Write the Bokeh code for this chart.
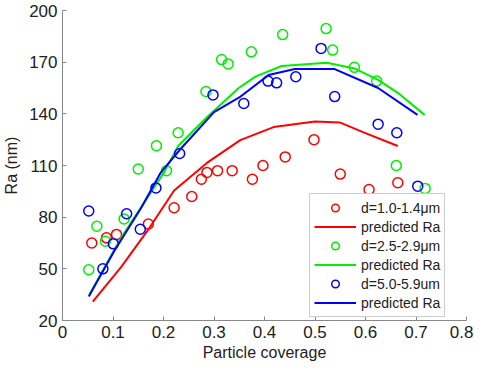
from bokeh.plotting import figure
from bokeh.models import Range1d, Legend, LegendItem, FixedTicker
from bokeh.embed import file_html
from bokeh.resources import INLINE

# --- data ---
red_x = [0.058, 0.087, 0.107, 0.170, 0.221, 0.256, 0.275, 0.286, 0.307, 0.336, 0.376, 0.397, 0.441, 0.498, 0.550, 0.607, 0.664]
red_y = [65, 68, 70, 76, 85.5, 92, 102, 106, 107, 107, 102, 110, 115, 125, 105, 96, 100]

green_x = [0.052, 0.068, 0.085, 0.122, 0.150, 0.186, 0.206, 0.229, 0.284, 0.315, 0.328, 0.374, 0.436, 0.522, 0.535, 0.578, 0.622, 0.661, 0.718]
green_y = [49.5, 74.7, 66, 79, 108, 121.5, 107, 129, 153, 171.5, 169, 176, 186, 189.5, 177, 167, 159, 110, 96.7]

blue_x = [0.052, 0.080, 0.1005, 0.127, 0.154, 0.185, 0.232, 0.298, 0.359, 0.407, 0.424, 0.462, 0.512, 0.539, 0.625, 0.662, 0.7035]
blue_y = [83.6, 50, 64.5, 82, 73, 97, 117, 151, 146, 159, 158, 161.5, 178, 150, 134, 129, 98]

red_fit_x = [0.06, 0.116, 0.168, 0.221, 0.286, 0.352, 0.418, 0.5, 0.549, 0.595, 0.664]
red_fit_y = [31, 51, 72, 95.5, 111.5, 124.7, 132.3, 135.5, 135, 129.4, 121.3]

green_fit_x = [0.053, 0.116, 0.201, 0.229, 0.286, 0.349, 0.382, 0.434, 0.523, 0.579, 0.625, 0.664, 0.717]
green_fit_y = [35, 68, 106, 121.3, 138, 155, 161.6, 167.8, 169.7, 166.3, 159.7, 152.2, 139.4]

blue_fit_x = [0.052, 0.1025, 0.155, 0.194, 0.232, 0.3, 0.35, 0.408, 0.46, 0.539, 0.625, 0.703]
blue_fit_y = [34, 60.3, 85, 105.7, 119, 141, 149.5, 162.5, 166, 166, 155, 139.4]

x_ticks = [0, 0.1, 0.2, 0.3, 0.4, 0.5, 0.6, 0.7, 0.8]
y_ticks = [20, 50, 80, 110, 140, 170, 200]

labels = ["d=1.0-1.4\u03bcm", "predicted Ra", "d=2.5-2.9\u03bcm", "predicted Ra", "d=5.0-5.9um", "predicted Ra"]

FONT = "Liberation Sans"
RED, GREEN, BLUE = "#ff0000", "#00ee00", "#0000ff"

p = figure(width=473, height=363, output_backend="svg", toolbar_location=None,
           x_range=Range1d(0, 0.8), y_range=Range1d(20, 200),
           min_border_left=60, min_border_right=7, min_border_top=10, min_border_bottom=40)
p.outline_line_color = None
p.xgrid.visible = False
p.ygrid.visible = False
p.background_fill_color = "white"

for ax in (p.xaxis[0], p.yaxis[0]):
    ax.axis_line_color = "#888888"
    ax.major_tick_line_color = "#888888"
    ax.major_tick_in = 4
    ax.major_tick_out = 0
    ax.minor_tick_line_color = None
    ax.major_label_text_font = FONT
    ax.major_label_text_font_size = "17px"
    ax.major_label_text_color = "#222222"
    ax.axis_label_text_font = FONT
    ax.axis_label_text_font_size = "16px"
    ax.axis_label_text_font_style = "normal"
    ax.axis_label_text_color = "#222222"
    ax.major_label_standoff = 5

p.xaxis.ticker = FixedTicker(ticks=x_ticks)
p.yaxis.ticker = FixedTicker(ticks=y_ticks)
p.xaxis.major_label_overrides = {0: "0", 0.1: "0.1", 0.2: "0.2", 0.3: "0.3", 0.4: "0.4",
                                 0.5: "0.5", 0.6: "0.6", 0.7: "0.7", 0.8: "0.8"}
p.xaxis.axis_label = "Particle coverage"
p.yaxis.axis_label = "Ra (nm)"
p.xaxis.axis_label_standoff = 3
p.yaxis.axis_label_standoff = 6

r1 = p.scatter(red_x, red_y, marker="circle", size=10, fill_color=None, line_color=RED, line_width=1.5)
l1 = p.line(red_fit_x, red_fit_y, line_color=RED, line_width=2)
r2 = p.scatter(green_x, green_y, marker="circle", size=10, fill_color=None, line_color=GREEN, line_width=1.5)
l2 = p.line(green_fit_x, green_fit_y, line_color=GREEN, line_width=2)
r3 = p.scatter(blue_x, blue_y, marker="circle", size=10, fill_color=None, line_color=BLUE, line_width=1.5)
l3 = p.line(blue_fit_x, blue_fit_y, line_color=BLUE, line_width=2)

items = [LegendItem(label=lab, renderers=[r]) for lab, r in zip(labels, [r1, l1, r2, l2, r3, l3])]
legend = Legend(items=items, location=(247, 3), orientation="vertical",
                label_text_font=FONT, label_text_font_size="14px", label_text_color="#222222",
                glyph_width=42, glyph_height=19, label_height=19, label_standoff=5,
                spacing=0, padding=4, margin=0,
                border_line_color="#999999", border_line_width=1,
                background_fill_color="white", background_fill_alpha=1.0)
p.add_layout(legend, "center")

open("out.html", "w").write(file_html(p, INLINE))
